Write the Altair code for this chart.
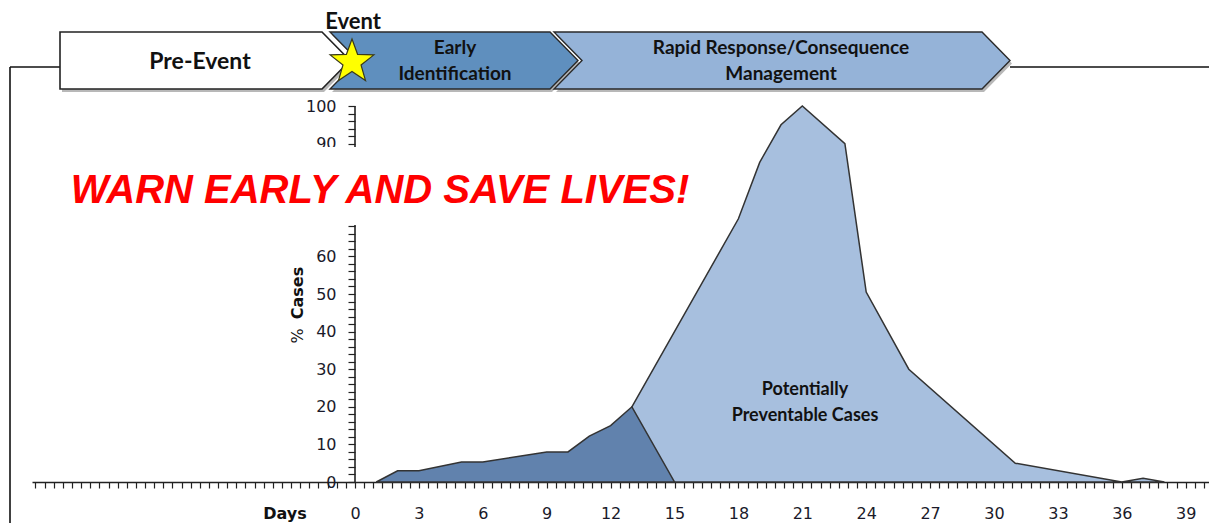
import math
import altair as alt
import pandas as pd

# ---------------- data ----------------
early_day = [1, 2, 3, 5, 6, 9, 10, 11, 12, 13, 15]
early_pct = [0, 3, 3, 5.3, 5.3, 8, 8, 12.2, 15, 20, 0]

response_day = [13, 18, 19, 20, 21, 23, 24, 26, 31, 36, 37, 38]
response_pct = [20, 70, 85, 95, 100, 90, 50.5, 30, 5, 0, 1, 0]

x_tick_labels = [0, 3, 6, 9, 12, 15, 18, 21, 24, 27, 30, 33, 36, 39]
# 70 and 80 are hidden behind the headline in the picture
y_tick_labels = [0, 10, 20, 30, 40, 50, 60, 90, 100]

phase_pre = "Pre-Event"
phase_early = ["Early", "Identification"]
phase_rapid = ["Rapid Response/Consequence", "Management"]
event_label = "Event"
headline = "WARN EARLY AND SAVE LIVES!"
area_label = ["Potentially", "Preventable Cases"]

# ---------------- layout ----------------
OX, OY = 32, 8            # page position of the plot origin
W_VIEW, H_VIEW = 1177, 474
PAD = {"left": 24, "top": 0, "right": 0, "bottom": 41}
PX_DAY = 21.3
DAY0_PX = 355
PX_PCT = 3.76
X0 = (OX - DAY0_PX) / PX_DAY
X1 = X0 + W_VIEW / PX_DAY
Y1 = H_VIEW / PX_PCT

BANNER_FONT = "Lato"
AXIS_FONT = "DejaVu Sans"

x_minor = [round(k * 3 / 7, 6) for k in range(math.ceil(X0 * 7 / 3), math.floor(X1 * 7 / 3) + 1)]
y_minor = list(range(0, 101, 2))

x_expr = (f"indexof({x_tick_labels}, round(datum.value)) >= 0 && "
          f"abs(datum.value - round(datum.value)) < 0.01 ? '' + round(datum.value) : ''")
y_expr = (f"indexof({y_tick_labels}, round(datum.value)) >= 0 && "
          f"abs(datum.value - round(datum.value)) < 0.01 ? '' + round(datum.value) : ''")

X = alt.X("day:Q",
          scale=alt.Scale(domain=[X0, X1], nice=False, zero=False),
          axis=alt.Axis(values=x_minor, labelExpr=x_expr, title=None, grid=False,
                        tickSize=6, tickColor="#222", tickWidth=1.2,
                        domainColor="#222", domainWidth=1.6,
                        labelFont=AXIS_FONT, labelFontSize=16, labelColor="#1a1a2a",
                        labelPadding=17, labelOverlap=False, labelFlush=False))
Y = alt.Y("pct:Q",
          scale=alt.Scale(domain=[0, Y1], nice=False, zero=False),
          axis=alt.Axis(values=y_minor, labelExpr=y_expr, title=None, grid=False,
                        domain=False, offset=-(DAY0_PX - OX),
                        tickSize=7, tickColor="#222", tickWidth=1.2,
                        labelFont=AXIS_FONT, labelFontSize=16, labelColor="#1a1a2a",
                        labelPadding=12, labelOverlap=False, labelFlush=False))

one = pd.DataFrame({"k": [0]})


def px(x):
    return x - OX


def py(y):
    return y - OY


def txt(s, x, y, size, weight="bold", font=BANNER_FONT, color="#111111",
        align="center", baseline="middle", angle=0, style="normal"):
    return alt.Chart(one).mark_text(
        text=s, fontSize=size, fontWeight=weight, font=font, color=color,
        align=align, baseline=baseline, angle=angle, fontStyle=style
    ).encode(x=alt.value(px(x)), y=alt.value(py(y)))


S = 300.0


def shape(points, fill, stroke=None, sw=0, opacity=1.0, dx=0, dy=0):
    xs = [p[0] for p in points]
    ys = [p[1] for p in points]
    cx = (min(xs) + max(xs)) / 2
    cy = (min(ys) + max(ys)) / 2
    path = "M" + " L".join(f"{(x - cx) / S:.5f},{(y - cy) / S:.5f}" for x, y in points) + " Z"
    kw = dict(shape=path, size=(2 * S) ** 2, filled=True, fill=fill, opacity=opacity)
    if stroke:
        kw.update(stroke=stroke, strokeWidth=sw)
    else:
        kw.update(strokeWidth=0)
    return alt.Chart(one).mark_point(**kw).encode(
        x=alt.value(px(cx + dx)), y=alt.value(py(cy + dy)))


def hline(x1, x2, y, color="#111", w=1.6):
    return alt.Chart(one).mark_rule(color=color, strokeWidth=w).encode(
        x=alt.value(px(x1)), x2=alt.value(px(x2)), y=alt.value(py(y)))


def vline(x, y1, y2, color="#111", w=1.6):
    return alt.Chart(one).mark_rule(color=color, strokeWidth=w).encode(
        x=alt.value(px(x)), y=alt.value(py(y1)), y2=alt.value(py(y2)))


# banner geometry (page pixels)
pre_pts = [(60, 32), (322, 32), (350, 60.5), (322, 89), (60, 89)]
early_pts = [(330, 32), (550, 32), (578, 60.5), (550, 89), (330, 89), (358, 60.5)]
rapid_pts = [(554, 32), (982, 32), (1010, 60.5), (982, 89), (554, 89), (582, 60.5)]
star_pts = []
for k in range(10):
    r = 23 if k % 2 == 0 else 9.5
    a = math.radians(-90 + 36 * k)
    star_pts.append((352 + r * math.cos(a), 62 + r * math.sin(a)))

layers = [
    # frame
    hline(10, 60, 67), hline(1010, 1209, 67), vline(10, 67, 523),
    # shadows
    shape(pre_pts, "#000000", opacity=0.28, dx=2, dy=3),
    shape(early_pts, "#000000", opacity=0.28, dx=2, dy=3),
    shape(rapid_pts, "#000000", opacity=0.28, dx=2, dy=3),
    # chevrons
    shape(pre_pts, "#FFFFFF", "#222222", 1.6),
    shape(early_pts, "#5F8FBE", "#2a2a2a", 1.4),
    shape(rapid_pts, "#95B3D8", "#2a2a2a", 1.4),
    shape(star_pts, "#FFFF00", "#3a3a1a", 1.2),
]

resp_df = pd.DataFrame({"day": response_day, "pct": response_pct})
early_df = pd.DataFrame({"day": early_day, "pct": early_pct})
axis_df = pd.DataFrame({"day": [0], "pct": [0], "pct2": [100]})

resp = alt.Chart(resp_df).mark_area(fill="#A7BFDE", stroke="#333333", strokeWidth=1.5,
                                    opacity=1).encode(x=X, y=Y)
early = alt.Chart(early_df).mark_area(fill="#6182AD", stroke="#333333", strokeWidth=1.5,
                                      opacity=1).encode(x=X, y=Y)
yline = alt.Chart(axis_df).mark_rule(color="#222", strokeWidth=1.6).encode(
    x=X, y=Y, y2="pct2:Q")

layers = [resp, yline, early] + layers + [
    alt.Chart(one).mark_rect(fill="#FFFFFF").encode(
        x=alt.value(px(20)), x2=alt.value(px(700)), y=alt.value(py(147)), y2=alt.value(py(225))),
    txt(headline, 380, 203, 40, font="Liberation Sans", color="#FF0000",
        baseline="alphabetic", style="italic"),
    txt(event_label, 353, 29, 22, baseline="alphabetic"),
    txt(phase_pre, 200, 62, 23),
    txt(phase_early[0], 455, 48, 19),
    txt(phase_early[1], 455, 74, 19),
    txt(phase_rapid[0], 781, 48, 19),
    txt(phase_rapid[1], 781, 74, 19),
    txt(area_label[0], 805, 390, 18),
    txt(area_label[1], 805, 416, 18),
    txt("%", 298, 336, 16, weight="normal", font=AXIS_FONT, angle=270),
    txt("Cases", 298, 293, 16, font=AXIS_FONT, angle=270),
    txt("Days", 285, 514, 16, font=AXIS_FONT),
]

chart = alt.layer(*layers).properties(
    width=W_VIEW, height=H_VIEW, padding=PAD,
    autosize=alt.AutoSizeParams(type="none"),
).configure_view(stroke=None)

chart.save("out.html", embed_options={"renderer": "svg", "actions": False})
